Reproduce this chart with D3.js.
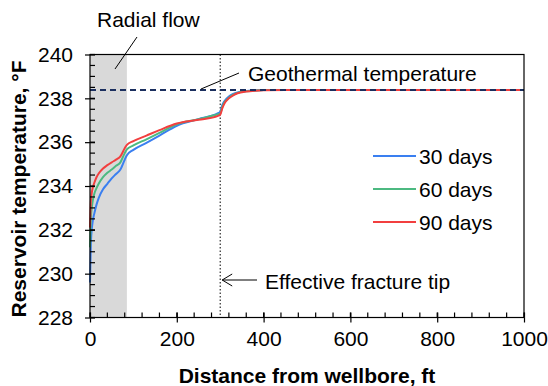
<!DOCTYPE html>
<html><head><meta charset="utf-8">
<script src="https://cdn.jsdelivr.net/npm/d3@7/dist/d3.min.js"></script>
<style>
body{margin:0;background:#fff;}
text{font-family:Arial,"Liberation Sans",sans-serif;fill:#000;}
</style></head>
<body><svg id="c" width="548" height="386"></svg>
<script>
// ---- data ----
const distance = [0, 2, 5, 10, 15, 20, 30, 40, 50, 60, 70, 80, 85, 100, 130, 160, 200, 250, 295, 300, 305, 310, 320, 330, 340, 360, 380, 400, 450, 500, 600, 800, 1000];
const days30 = [229.6, 231.4, 232.2, 232.75, 233.15, 233.45, 233.85, 234.1, 234.35, 234.55, 234.75, 235.2, 235.4, 235.65, 235.97, 236.3, 236.75, 237.05, 237.32, 237.38, 237.7, 237.88, 238.08, 238.2, 238.27, 238.33, 238.36, 238.38, 238.38, 238.38, 238.38, 238.38, 238.38];
const days60 = [231.2, 232.5, 233.15, 233.65, 233.9, 234.1, 234.4, 234.6, 234.75, 234.92, 235.08, 235.5, 235.67, 235.85, 236.13, 236.42, 236.82, 237.05, 237.27, 237.3, 237.62, 237.82, 238.03, 238.17, 238.25, 238.32, 238.36, 238.38, 238.38, 238.38, 238.38, 238.38, 238.38];
const days90 = [232.1, 233.3, 233.8, 234.15, 234.4, 234.57, 234.8, 234.95, 235.08, 235.2, 235.35, 235.72, 235.88, 236.05, 236.3, 236.55, 236.85, 237.02, 237.2, 237.25, 237.55, 237.77, 238.0, 238.14, 238.23, 238.31, 238.35, 238.37, 238.38, 238.38, 238.38, 238.38, 238.38];
const seriesNames = ["30 days", "60 days", "90 days"];
const seriesColors = ["#3a7ff0", "#4cb981", "#f23f3f"];
const geothermal = 238.38;
const radialEnd = 85;
const fractureTip = 300;
const xTicks = [0, 200, 400, 600, 800, 1000];
const yTicks = [228, 230, 232, 234, 236, 238, 240];
const xMinor = d3.range(0, 1001, 40);
const yMinor = d3.range(228, 240.01, 0.5);

// ---- layout ----
const svg = d3.select("#c");
const L = 90, R = 524, T = 54.5, B = 317.5;
const x = d3.scaleLinear().domain([0, 1000]).range([L, R]);
const y = d3.scaleLinear().domain([228, 240]).range([B, T]);
const FS = 21;

// radial band
svg.append("rect").attr("x", x(0)).attr("y", T).attr("width", x(radialEnd) - x(0)).attr("height", B - T).attr("fill", "#d9d9d9");

// fracture tip dotted
svg.append("line").attr("x1", x(fractureTip)).attr("x2", x(fractureTip)).attr("y1", T).attr("y2", B)
  .attr("stroke", "#000").attr("stroke-width", 1).attr("stroke-dasharray", "1.5,2");

// series
const line = d3.line().x((d, i) => x(distance[i])).y(d => y(d)).curve(d3.curveMonotoneX);
[days30, days60, days90].forEach((s, k) => {
  svg.append("path").attr("d", line(s)).attr("fill", "none").attr("stroke", seriesColors[k]).attr("stroke-width", 2);
});

// geothermal dashed
svg.append("line").attr("x1", x(0)).attr("x2", x(1000)).attr("y1", y(geothermal)).attr("y2", y(geothermal))
  .attr("stroke", "#1b2f5e").attr("stroke-width", 2).attr("stroke-dasharray", "6,4");

// frame
svg.append("rect").attr("x", L).attr("y", T).attr("width", R - L).attr("height", B - T)
  .attr("fill", "none").attr("stroke", "#000").attr("stroke-width", 1.2);

// minor ticks (inside)
svg.append("g").selectAll("line").data(xMinor).join("line")
  .attr("x1", d => x(d)).attr("x2", d => x(d)).attr("y1", B).attr("y2", B - 5).attr("stroke", "#000").attr("stroke-width", 1.2);
svg.append("g").selectAll("line").data(yMinor).join("line")
  .attr("y1", d => y(d)).attr("y2", d => y(d)).attr("x1", L).attr("x2", L + 5).attr("stroke", "#000").attr("stroke-width", 1.2);

// axes
const xa = svg.append("g").attr("transform", `translate(0,${B})`)
  .call(d3.axisBottom(x).tickValues(xTicks).tickSize(5).tickPadding(9).tickFormat(d3.format("d")));
const ya = svg.append("g").attr("transform", `translate(${L},0)`)
  .call(d3.axisLeft(y).tickValues(yTicks).tickSize(5).tickPadding(12).tickFormat(d3.format("d")));
[xa, ya].forEach(a => {
  a.select(".domain").remove();
  a.selectAll(".tick line").attr("stroke", "#000").attr("stroke-width", 1.2);
  a.selectAll(".tick text").attr("font-size", FS).attr("font-family", "Arial, 'Liberation Sans', sans-serif").attr("fill", "#000");
});
// inner part of major ticks
xa.selectAll(".tick").append("line").attr("y1", 0).attr("y2", -5).attr("stroke", "#000").attr("stroke-width", 1.2);
ya.selectAll(".tick").append("line").attr("x1", 0).attr("x2", 5).attr("stroke", "#000").attr("stroke-width", 1.2);

// axis titles
svg.append("text").attr("x", (L + R) / 2).attr("y", 383).attr("text-anchor", "middle")
  .attr("font-size", FS).attr("font-weight", "bold").text("Distance from wellbore, ft");
svg.append("text").attr("transform", `translate(26,189) rotate(-90)`).attr("text-anchor", "middle")
  .attr("font-size", FS).attr("font-weight", "bold").text("Reservoir temperature, °F");

// annotations
svg.append("text").attr("x", 97).attr("y", 27).attr("font-size", FS).text("Radial flow");
svg.append("line").attr("x1", 115).attr("y1", 69).attr("x2", 137).attr("y2", 37).attr("stroke", "#000").attr("stroke-width", 1);
svg.append("text").attr("x", 248).attr("y", 81).attr("font-size", FS).text("Geothermal temperature");
svg.append("line").attr("x1", 201).attr("y1", 89).attr("x2", 239).attr("y2", 73).attr("stroke", "#000").attr("stroke-width", 1);
svg.append("text").attr("x", 265).attr("y", 289).attr("font-size", FS).text("Effective fracture tip");
const ay = 280, ax0 = x(fractureTip) + 2;
svg.append("line").attr("x1", ax0).attr("y1", ay).attr("x2", 257).attr("y2", ay).attr("stroke", "#000").attr("stroke-width", 1);
svg.append("path").attr("d", `M${ax0 + 10},${ay - 6}L${ax0},${ay}L${ax0 + 10},${ay + 6}`).attr("fill", "none").attr("stroke", "#000").attr("stroke-width", 1);

// legend
const lg = svg.append("g");
seriesNames.forEach((n, k) => {
  const ly = 156 + k * 33;
  lg.append("line").attr("x1", 373).attr("x2", 416).attr("y1", ly).attr("y2", ly).attr("stroke", seriesColors[k]).attr("stroke-width", 2);
  lg.append("text").attr("x", 419).attr("y", ly).attr("dy", "0.36em").attr("font-size", FS).text(n);
});
</script></body></html>
